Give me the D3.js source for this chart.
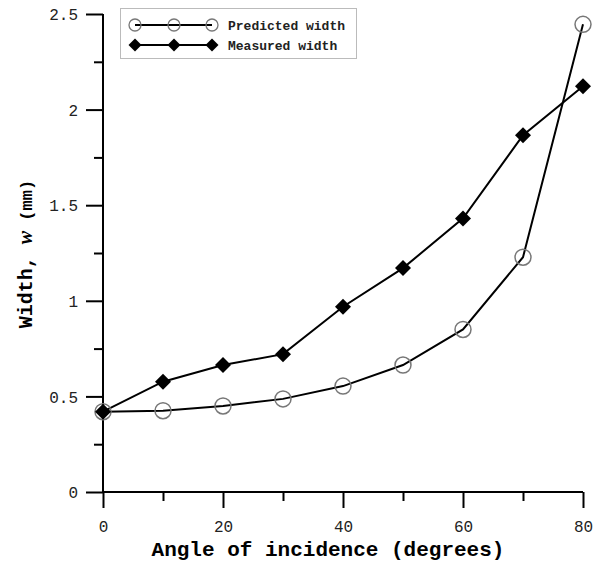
<!DOCTYPE html>
<html><head><meta charset="utf-8">
<script src="https://cdn.jsdelivr.net/npm/d3@7"></script>
<style>body{margin:0;background:#fff}svg{display:block}</style>
</head><body>
<svg id="c" width="601" height="563"></svg>
<script>
const angles = [0,10,20,30,40,50,60,70,80];
const predicted = [0.42,0.425,0.45,0.487,0.554,0.664,0.85,1.228,2.446];
const measured = [0.42,0.577,0.664,0.721,0.969,1.171,1.431,1.866,2.122];
const xTicks = [0,20,40,60,80];
const yTicks = [0,0.5,1,1.5,2,2.5];
const seriesNames = ["Predicted width","Measured width"];

const svg = d3.select("#c");
const x = d3.scaleLinear().domain([0,80]).range([103,583]);
const y = d3.scaleLinear().domain([0,2.5]).range([492,14]);
const mono = "'Liberation Mono','Courier New',monospace";

// axes
const gx = svg.append("g").attr("transform","translate(0,492)");
gx.call(d3.axisBottom(x).tickValues(xTicks).tickSize(16).tickSizeOuter(0).tickFormat(d3.format("d")));
const gxm = svg.append("g").attr("transform","translate(0,492)");
gxm.call(d3.axisBottom(x).tickValues(d3.range(10,80,20)).tickSize(9).tickFormat(""));
gxm.select(".domain").remove();
const gy = svg.append("g").attr("transform","translate(103,0)");
gy.call(d3.axisLeft(y).tickValues(yTicks).tickSize(17).tickSizeOuter(0).tickFormat(d=>d));
const gym = svg.append("g").attr("transform","translate(103,0)");
gym.call(d3.axisLeft(y).tickValues(d3.range(0.25,2.5,0.5)).tickSize(9).tickFormat(""));
gym.select(".domain").remove();
[gx,gxm,gy,gym].forEach(g=>{
  g.selectAll("path,line").attr("stroke","#000").attr("stroke-width",2);
  g.selectAll("text").attr("font-family",mono).attr("font-size",16).attr("fill","#222");
});
gx.selectAll("text").attr("dy",null).attr("y",40);
gy.selectAll("text").attr("x",-25).attr("dy","0.35em");
gx.select(".domain").attr("d","M103,0H583");
gy.select(".domain").attr("d","M0,492V14");

// titles
svg.append("text").attr("x",328).attr("y",556).attr("text-anchor","middle")
  .attr("font-family",mono).attr("font-weight","bold").attr("font-size",21)
  .text("Angle of incidence (degrees)");
const yt = svg.append("text").attr("transform","translate(32,254) rotate(-90)")
  .attr("text-anchor","middle").attr("font-family",mono).attr("font-weight","bold").attr("font-size",20);
yt.append("tspan").text("Width, ");
yt.append("tspan").attr("font-style","italic").attr("font-family","'Liberation Serif',serif").text("w");
yt.append("tspan").attr("font-size",17).text(" (mm)");

// lines
const line = d3.line().x((d,i)=>x(angles[i])).y(d=>y(d));
svg.append("path").attr("d",line(predicted)).attr("fill","none").attr("stroke","#000").attr("stroke-width",2);
svg.append("path").attr("d",line(measured)).attr("fill","none").attr("stroke","#000").attr("stroke-width",2);

function diamondPath(cx,cy,r){return `M${cx},${cy-r}L${cx+r},${cy}L${cx},${cy+r}L${cx-r},${cy}Z`;}

svg.append("g").selectAll("circle").data(predicted).join("circle")
  .attr("cx",(d,i)=>x(angles[i])).attr("cy",d=>y(d)).attr("r",8)
  .attr("fill","none").attr("stroke","#777").attr("stroke-width",1.5);
svg.append("g").selectAll("path").data(measured).join("path")
  .attr("d",(d,i)=>diamondPath(x(angles[i]),y(d),8)).attr("fill","#000");

// legend
const lg = svg.append("g");
lg.append("rect").attr("x",120.5).attr("y",8.5).attr("width",236).attr("height",50)
  .attr("fill","#fff").attr("stroke","#bbb").attr("stroke-width",1);
const lx = [135,174,212];
[25,45].forEach((ly,k)=>{
  lg.append("line").attr("x1",lx[0]).attr("x2",lx[2]).attr("y1",ly).attr("y2",ly).attr("stroke","#000").attr("stroke-width",2);
  lx.forEach(px=>{
    if(k===0) lg.append("circle").attr("cx",px).attr("cy",ly).attr("r",6).attr("fill","none").attr("stroke","#777").attr("stroke-width",1.3);
    else lg.append("path").attr("d",diamondPath(px,ly,6.5)).attr("fill","#000");
  });
  lg.append("text").attr("x",228).attr("y",ly).attr("dy","0.35em").attr("font-family",mono)
    .attr("font-weight","bold").attr("font-size",13).attr("fill","#222").text(seriesNames[k]);
});
</script>
</body></html>
